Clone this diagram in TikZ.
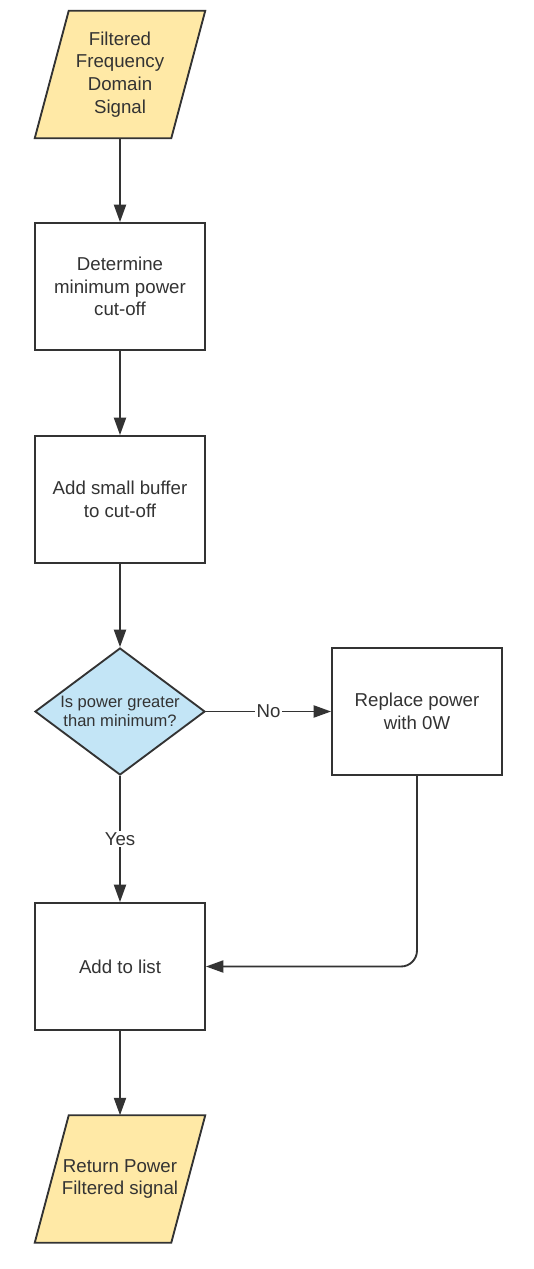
\documentclass[tikz,border=0pt]{standalone}
\usepackage{fontspec}
\setmainfont{Liberation Sans}
\usetikzlibrary{arrows.meta,shapes.geometric,backgrounds}
\definecolor{FlowYellow}{HTML}{FFE9A6}
\definecolor{FlowBlue}{HTML}{C3E5F6}
\definecolor{FlowLine}{HTML}{333333}

\begin{document}
\begin{tikzpicture}[x=0.75pt,y=0.75pt,yscale=-1,xscale=1,
		every node/.style={font=\fontsize{14}{17}\selectfont, text=FlowLine},
		process/.style={draw=FlowLine, line width=1.4pt, fill=white, minimum width=127.5pt, minimum height=95.25pt, align=center, inner sep=2pt},
		io/.style={minimum width=102pt, minimum height=95.25pt, align=center, inner sep=0pt},
		iobox/.style={draw=FlowLine, line width=1.4pt, fill=FlowYellow, line join=miter},
		decision/.style={diamond, aspect=1.34, draw=FlowLine, line width=1.4pt, fill=FlowBlue, minimum width=127.5pt, minimum height=95.25pt, inner sep=0pt, align=center, font=\fontsize{12.4}{14.5}\selectfont},
		flow/.style={draw=FlowLine, line width=1.4pt, -{Triangle[length=13pt,width=9pt]}},
		flowlabel/.style={fill=white, inner sep=1pt}]
		% Set diagram left start at 0, and has height of 1269
		\path (0,0) rectangle (534,1269);

		% Input and output text, the parallelograms go behind
		\node[io] (input) at (120,74.5) {Filtered\\Frequency\\Domain\\Signal};
		\node[io] (output) at (120,1179) {Return Power\\Filtered signal};

		% Draw the yellow parallelograms on the background layer
		\begin{scope}[on background layer]
			\foreach \n in {input,output}
				\draw[iobox] ([xshift=12.75pt]\n.north west) -- ([xshift=12.75pt]\n.north east) -- ([xshift=-12.75pt]\n.south east) -- ([xshift=-12.75pt]\n.south west) -- cycle;
		\end{scope}

		% The process boxes
		\node[process] (cutoff) at (120,286.5) {Determine\\minimum power\\cut-off};
		\node[process] (buffer) at (120,499.5) {Add small buffer\\to cut-off};
		\node[process] (replace) at (417,711.5) {Replace power\\with 0W};
		\node[process] (list) at (120,966.5) {Add to list};

		% The decision in blue
		\node[decision] (check) at (120,711.5) {Is power greater\\than minimum?};

		% Draw the arrows down the main column
		\draw[flow] (input) -- (cutoff);
		\draw[flow] (cutoff) -- (buffer);
		\draw[flow] (buffer) -- (check);
		\draw[flow] (check) -- node[flowlabel] {Yes} (list);
		\draw[flow] (list) -- (output);

		% Draw the arrows of the "No" branch
		\draw[flow] (check) -- node[flowlabel] {No} (replace);
		\draw[flow, rounded corners=12pt] (replace) |- (list);
	\end{tikzpicture}
\end{document}
